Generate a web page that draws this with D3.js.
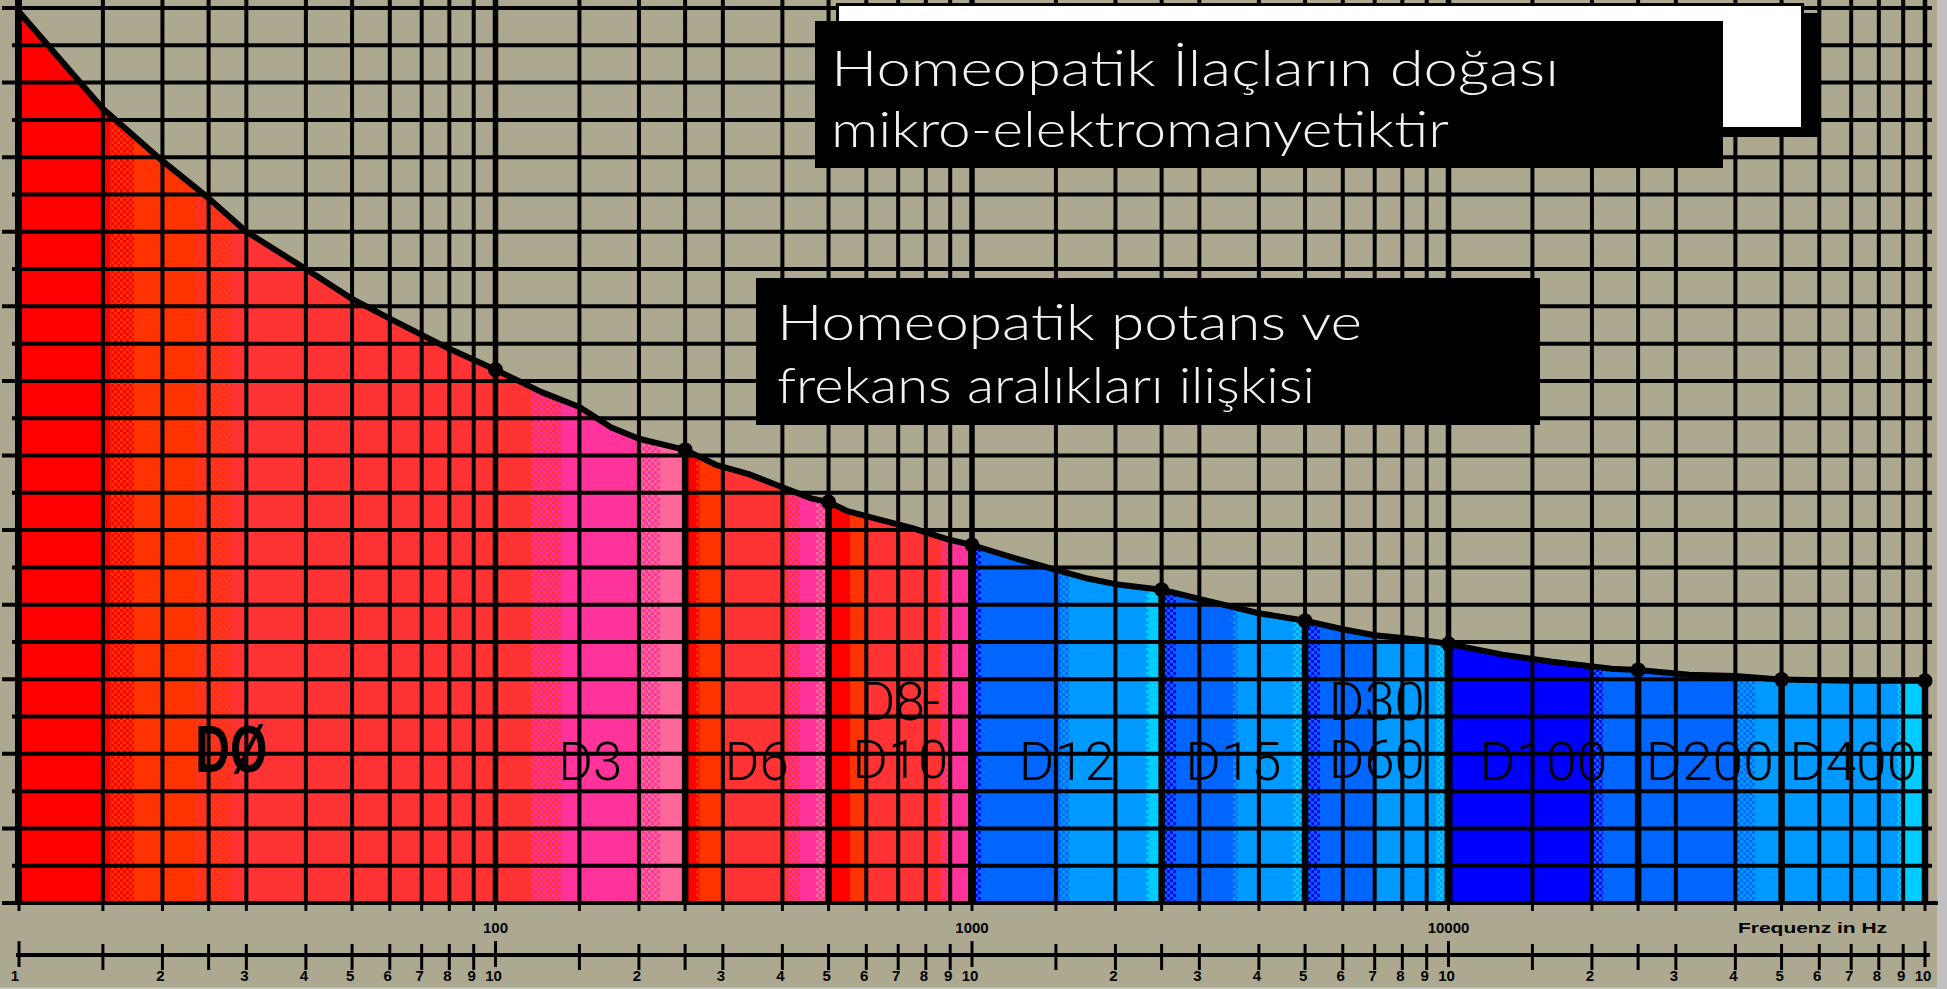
<!DOCTYPE html>
<html>
<head>
<meta charset="utf-8">
<script src="https://cdn.jsdelivr.net/npm/d3@7"></script>
<style>
  html, body { margin: 0; padding: 0; background: #c0c0c0; overflow: hidden; }
  svg { display: block; }
</style>
</head>
<body>
<svg id="chart" width="1947" height="989"></svg>
<script>
// ---- data -------------------------------------------------------------
// Response curve: frequency (Hz) and level in grid units
const curveHz = [10, 15, 20, 25, 30, 40, 50, 60, 80, 100, 125, 150, 175, 200, 250, 290, 340, 400, 460, 500,
  550, 640, 750, 890, 1000, 1250, 1500, 1750, 2000, 2500, 3200, 4000, 5000, 6000, 7000, 8500, 10000,
  13000, 16500, 22000, 25000, 32000, 40000, 50000, 70000, 100000];
const curveLevel = [23.9, 21.3, 19.9, 18.9, 18.0, 17.0, 16.2, 15.67, 14.86, 14.3, 13.7, 13.3, 12.75, 12.45, 12.15, 11.75, 11.5, 11.15, 10.85, 10.75,
  10.5, 10.28, 10.05, 9.75, 9.6, 9.22, 8.93, 8.7, 8.55, 8.4, 8.07, 7.77, 7.57, 7.34, 7.18, 7.07, 6.95,
  6.66, 6.47, 6.28, 6.25, 6.12, 6.09, 5.99, 5.96, 5.96];

// Points marked on the curve and potency boundaries
const markerHz = [100, 250, 500, 1000, 2500, 5000, 10000, 25000, 50000, 100000];
const boundaryHz = [250, 500, 1000, 2500, 5000, 10000, 25000, 50000, 100000];

// Potency ranges
const potencyLabels = [["DØ"], ["D3"], ["D6"], ["D8-", "D10"], ["D12"], ["D15"], ["D30", "D60"], ["D100"], ["D200"], ["D400"]];
const potencyFrom = [10, 100, 250, 500, 1000, 2500, 5000, 10000, 25000, 50000];
const potencyTo   = [100, 250, 500, 1000, 2500, 5000, 10000, 25000, 50000, 100000];

// Colour bands under the curve (tone "A|B" = dithered mix of A and B)
const bandFrom = [10, 15.5, 17.4, 23.5, 28, 119, 138, 199, 221,
  250, 263, 268, 300, 410, 435, 470,
  500, 555, 600, 860, 900,
  1000, 1045, 1530, 1600, 2320, 2350,
  2500, 2680, 3530, 3620, 4720,
  5000, 5370, 7000, 9400,
  10000, 20000, 21100, 40000, 44000, 87300, 91000];
const bandTo = [15.5, 17.4, 23.5, 28, 119, 138, 199, 221, 250,
  263, 268, 300, 410, 435, 470, 500,
  555, 600, 860, 900, 1000,
  1045, 1530, 1600, 2320, 2350, 2500,
  2680, 3530, 3620, 4720, 5000,
  5370, 7000, 9400, 10000,
  20000, 21100, 40000, 44000, 87300, 91000, 100000];
const bandTone = ["R", "R|O", "O", "O|L", "L", "L|P", "P", "P|K", "K",
  "R", "R|O", "O", "L", "L|P", "P", "P|K",
  "R", "O", "L", "L|P", "P",
  "D|M", "M", "M|S", "S", "S|C", "C",
  "D|M", "M", "M|S", "S", "S|C",
  "D|M", "M", "S", "S|C",
  "D", "D|M", "M", "M|S", "S", "S|C", "C"];

// Grid and axis labels
const gridSteps = [1, 1.5, 2, 2.5, 3, 4, 5, 6, 7, 8, 9];
const decadeStarts = [10, 100, 1000, 10000];
const scaleTickLabels = ["2", "3", "4", "5", "6", "7", "8", "9", "10"];
const decadeLabels = ["100", "1000", "10000"];
const axisTitle = "Frequenz in Hz";
const titleLinesA = ["Homeopatik İlaçların doğası", "mikro-elektromanyetiktir"];
const titleLinesB = ["Homeopatik potans ve", "frekans aralıkları ilişkisi"];

// ---- drawing ----------------------------------------------------------
const W = 1947, H = 989;
const svg = d3.select("#chart");
const x = d3.scaleLog().domain([10, 100000]).range([19, 1925]);
const y = d3.scaleLinear().domain([0, 24]).range([903, 8]);

const palette = {
  R: "#FF0000", O: "#FF3300", L: "#FF3333", P: "#FF3399", K: "#FF6699",
  D: "#0000FF", M: "#0066FF", S: "#0099FF", C: "#00CCFF"
};
const khaki = "#ADA991";

svg.append("rect").attr("width", W).attr("height", H).attr("fill", khaki);
svg.append("rect").attr("x", 1937).attr("width", 10).attr("height", H).attr("fill", "#C0C0C0");
svg.append("rect").attr("y", 987).attr("width", W).attr("height", 2).attr("fill", "#C0C0C0");

const defs = svg.append("defs");
Array.from(new Set(bandTone.filter(t => t.includes("|")))).forEach(t => {
  const [a, b] = t.split("|");
  const p = defs.append("pattern").attr("id", "dither-" + a + b)
    .attr("patternUnits", "userSpaceOnUse").attr("width", 6).attr("height", 6);
  p.append("rect").attr("width", 6).attr("height", 6).attr("fill", palette[a]);
  p.append("rect").attr("width", 3).attr("height", 3).attr("fill", palette[b]);
  p.append("rect").attr("x", 3).attr("y", 3).attr("width", 3).attr("height", 3).attr("fill", palette[b]);
});
const toneFill = t => t.includes("|") ? `url(#dither-${t.replace("|", "")})` : palette[t];

const curve = curveHz.map((hz, i) => ({ hz, v: curveLevel[i] }));
const levelAt = hz => curveLevel[curveHz.indexOf(hz)];

const area = d3.area().x(d => x(d.hz)).y0(y(0)).y1(d => y(d.v));
defs.append("clipPath").attr("id", "under-curve").append("path").attr("d", area(curve));

// coloured bands
svg.append("g").attr("clip-path", "url(#under-curve)")
  .selectAll("rect").data(bandTone).join("rect")
  .attr("x", (d, i) => x(bandFrom[i]))
  .attr("width", (d, i) => x(bandTo[i]) - x(bandFrom[i]) + 0.6)
  .attr("y", 0).attr("height", y(0))
  .attr("fill", d => toneFill(d))
  .attr("shape-rendering", "crispEdges");

// grid
const gridHz = [];
decadeStarts.forEach(d => gridSteps.forEach(s => gridHz.push(d * s)));
gridHz.push(100000);
const isDecade = hz => hz === 100 || hz === 1000 || hz === 10000;

svg.append("g").selectAll("line").data(gridHz.filter(h => h > 10)).join("line")
  .attr("x1", d => x(d)).attr("x2", d => x(d))
  .attr("y1", 0).attr("y2", y(0))
  .attr("stroke", "#000")
  .attr("stroke-width", d => isDecade(d) ? 5.5 : (d === 100000 ? 4.5 : 4));

const levels = d3.range(0, 25);
svg.append("g").selectAll("line").data(levels).join("line")
  .attr("x1", d => d % 2 === 0 ? 2 : 12)
  .attr("x2", d => d === 0 ? 1938 : 1932)
  .attr("y1", d => y(d)).attr("y2", d => y(d))
  .attr("stroke", "#000").attr("stroke-width", 4);

// left axis
svg.append("line").attr("x1", x(10) - 0.5).attr("x2", x(10) - 0.5).attr("y1", 0).attr("y2", y(0) + 2)
  .attr("stroke", "#000").attr("stroke-width", 7);

// potency boundaries under the curve
svg.append("g").selectAll("line").data(boundaryHz).join("line")
  .attr("x1", d => x(d)).attr("x2", d => x(d))
  .attr("y1", y(0)).attr("y2", d => y(levelAt(d)))
  .attr("stroke", "#000").attr("stroke-width", d => isDecade(d) ? 8 : 6.5);

// curve and markers
svg.append("path").datum(curve)
  .attr("d", d3.line().x(d => x(d.hz)).y(d => y(d.v)))
  .attr("fill", "none").attr("stroke", "#000").attr("stroke-width", 6)
  .attr("stroke-linejoin", "round").attr("stroke-linecap", "square");

svg.append("g").selectAll("circle").data(markerHz).join("circle")
  .attr("cx", d => x(d)).attr("cy", d => y(levelAt(d))).attr("r", 7.5).attr("fill", "#000");

// potency labels
const charW = ch => ch === "-" ? 16 : 32;
potencyLabels.forEach((rows, i) => {
  const cx = (x(potencyFrom[i]) + x(potencyTo[i])) / 2 + (i === 0 ? -26 : 0);
  rows.forEach((txt, r) => {
    const lvl = rows.length === 2 ? (r === 0 ? 4.9 : 3.36) : (i === 0 ? 3.5 : 3.3);
    const t = svg.append("text")
      .attr("x", cx).attr("y", y(lvl))
      .attr("text-anchor", "middle")
      .attr("fill", "#000")
      .text(txt);
    if (i === 0) {
      t.attr("font-family", "'Liberation Sans', Arial, sans-serif")
        .attr("font-weight", "bold").attr("font-size", 66)
        .attr("textLength", 72).attr("lengthAdjust", "spacingAndGlyphs");
    } else {
      t.attr("font-family", "Roboto, 'Liberation Sans', sans-serif")
        .attr("font-weight", 300).attr("font-size", 53)
        .attr("textLength", Array.from(txt).reduce((s, c) => s + charW(c), 0))
        .attr("lengthAdjust", "spacingAndGlyphs");
    }
  });
});

// ticks below the plot
svg.append("g").selectAll("line").data(gridHz).join("line")
  .attr("x1", d => x(d)).attr("x2", d => x(d)).attr("y1", y(0)).attr("y2", 911)
  .attr("stroke", "#000").attr("stroke-width", 3);

const smallFont = "'Liberation Sans', Arial, sans-serif";
svg.append("g").selectAll("text").data(decadeLabels).join("text")
  .attr("x", d => x(+d)).attr("y", 933)
  .attr("text-anchor", "middle")
  .attr("font-family", smallFont).attr("font-weight", "bold").attr("font-size", 15)
  .attr("fill", "#000").text(d => d);
svg.append("text").attr("x", 1738).attr("y", 933)
  .attr("font-family", smallFont).attr("font-weight", "bold").attr("font-size", 15)
  .attr("textLength", 149).attr("lengthAdjust", "spacingAndGlyphs")
  .attr("fill", "#000").text(axisTitle);

// lower decade scale
svg.append("line").attr("x1", x(10) - 3).attr("x2", 1930).attr("y1", 955).attr("y2", 955)
  .attr("stroke", "#000").attr("stroke-width", 4);
const isLongTick = hz => hz === 10 || isDecade(hz) || hz === 100000;
svg.append("g").selectAll("line").data(gridHz).join("line")
  .attr("x1", d => x(d)).attr("x2", d => x(d))
  .attr("y1", d => isLongTick(d) ? 941 : 944).attr("y2", d => isLongTick(d) ? 967 : 970)
  .attr("stroke", "#000").attr("stroke-width", 3);

const scaleLabels = [{ hz: 10, text: "1" }];
decadeStarts.forEach(d => scaleTickLabels.forEach(s => scaleLabels.push({ hz: d * (+s), text: s })));
svg.append("g").selectAll("text").data(scaleLabels).join("text")
  .attr("x", d => d.hz === 10 ? x(d.hz) : x(d.hz) - 2)
  .attr("y", 981)
  .attr("text-anchor", d => d.hz === 10 ? "end" : "middle")
  .attr("font-family", smallFont).attr("font-weight", "bold").attr("font-size", 15)
  .attr("fill", "#000").text(d => d.text);

// title boxes
const titleFont = "Lato, 'Open Sans', sans-serif";
svg.append("rect").attr("x", 849).attr("y", 13).attr("width", 971).attr("height", 124).attr("fill", "#000");
svg.append("rect").attr("x", 837.5).attr("y", 4.5).attr("width", 965).attr("height", 124)
  .attr("fill", "#fff").attr("stroke", "#000").attr("stroke-width", 3);
svg.append("rect").attr("x", 815).attr("y", 21).attr("width", 908).attr("height", 147).attr("fill", "#000");
const widthsA = [728, 618];
titleLinesA.forEach((line, i) => {
  svg.append("text").attr("x", 831).attr("y", 86 + i * 61)
    .attr("font-family", titleFont).attr("font-weight", 300).attr("font-size", 50)
    .attr("textLength", widthsA[i]).attr("lengthAdjust", "spacingAndGlyphs")
    .attr("fill", "#F2F2F2").text(line);
});

svg.append("rect").attr("x", 756).attr("y", 278).attr("width", 784).attr("height", 147).attr("fill", "#000");
const widthsB = [585, 538];
titleLinesB.forEach((line, i) => {
  svg.append("text").attr("x", 777).attr("y", 340 + i * 63)
    .attr("font-family", titleFont).attr("font-weight", 300).attr("font-size", 50)
    .attr("textLength", widthsB[i]).attr("lengthAdjust", "spacingAndGlyphs")
    .attr("fill", "#F2F2F2").text(line);
});
</script>
</body>
</html>
